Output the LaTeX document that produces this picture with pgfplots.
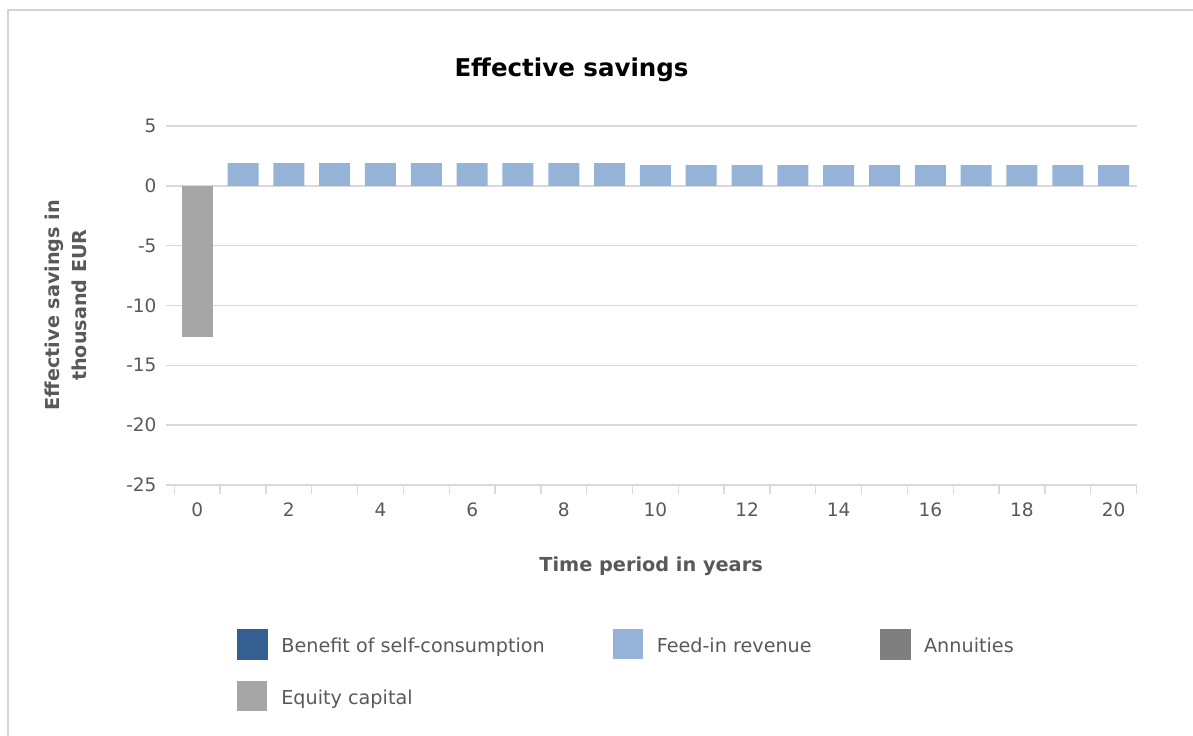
\documentclass[border=0pt]{standalone}
\usepackage{pgfplots}
\pgfplotsset{compat=1.18}
\usepackage{fontspec}
\setmainfont{DejaVu Sans}

\definecolor{selfblue}{HTML}{365F91}
\definecolor{feedblue}{HTML}{95B3D7}
\definecolor{annuity}{HTML}{7F7F7F}
\definecolor{equity}{HTML}{A6A6A6}
\definecolor{txtgray}{HTML}{595959}
\definecolor{gridgray}{HTML}{D9D9D9}
\definecolor{framegray}{HTML}{D4D4D4}

% Feed-in revenue per year, thousand EUR
\pgfplotstableread{
year value
1  1.89
2  1.89
3  1.89
4  1.89
5  1.89
6  1.89
7  1.89
8  1.89
9  1.89
10 1.72
11 1.72
12 1.72
13 1.72
14 1.72
15 1.72
16 1.72
17 1.72
18 1.72
19 1.72
20 1.72
}\feedin

% Equity capital invested at the start
\pgfplotstableread{
year value
0 -12.65
}\equitycap

\begin{document}
\begin{tikzpicture}
\useasboundingbox (0bp,0bp) rectangle (1193bp,736bp);
\draw[framegray, line width=2bp] (7.5bp,-2bp) -- (7.5bp,725.5bp) -- (1195bp,725.5bp);
\begin{axis}[
  at={(165.7bp,251bp)}, anchor=south west,
  scale only axis, width=970.8bp, height=359bp,
  xmin=-0.688, xmax=20.5, ymin=-25, ymax=5,
  axis line style={draw=none},
  xtick={0,2,...,20},
  minor xtick={-0.5,0.5,...,20.5},
  ytick={-25,-20,...,5},
  tick pos=left,
  tick align=outside,
  major tick length=0pt,
  minor tick length=9bp,
  minor tick style={gridgray, line width=1.3bp},
  ymajorgrids,
  major grid style={gridgray, line width=1.5bp},
  /pgf/number format/assume math mode=true,
  tick label style={font=\fontsize{18.5bp}{22bp}\selectfont, text=txtgray, inner sep=0pt},
  xticklabel style={anchor=north, yshift=-18bp},
  yticklabel style={anchor=east, xshift=-9bp},
  every axis title shift=0pt,
  title={Effective savings},
  title style={at={(0.418,1.1365)}, anchor=base, inner sep=0pt,
    font=\fontsize{24.5bp}{29bp}\selectfont\bfseries, text=black},
  xlabel={Time period in years},
  xlabel style={at={(0.5,-0.2423)}, anchor=base, inner sep=0pt,
    font=\fontsize{19.3bp}{23bp}\selectfont\bfseries, text=txtgray},
  ylabel={Effective savings in\\thousand EUR},
  ylabel style={at={(-0.1027,0.501)}, anchor=center, rotate=0, inner sep=0pt, align=center,
    font=\fontsize{19.2bp}{27bp}\selectfont\bfseries, text=txtgray},
  legend columns=3,
  legend cell align=left,
  legend style={at={(0.0734,-0.4011)}, anchor=north west, draw=none, fill=none,
    inner sep=0pt, outer sep=0pt,
    font=\fontsize{19.2bp}{23bp}\selectfont, text=txtgray,
    nodes={inner sep=0pt},
    row sep=22bp,
    /tikz/every odd column/.append style={column sep=14bp},
    /tikz/every even column/.append style={column sep=68bp}},
]
\addlegendimage{legend image code/.code={\fill[selfblue] (0bp,-13bp) rectangle (30bp,17bp);}}
\addplot[ybar, bar width=31bp, bar shift=0pt, fill=feedblue, draw=none,
  legend image code/.code={\fill[feedblue] (0bp,-13bp) rectangle (30bp,17bp);}]
  table[x=year, y=value] {\feedin};
\addlegendimage{legend image code/.code={\fill[annuity] (0bp,-13bp) rectangle (30bp,17bp);}}
\addplot[ybar, bar width=31bp, bar shift=0pt, fill=equity, draw=none,
  legend image code/.code={\fill[equity] (0bp,-13bp) rectangle (30bp,17bp);}]
  table[x=year, y=value] {\equitycap};
\legend{Benefit of self-consumption, Feed-in revenue, Annuities, Equity capital}
\end{axis}
\end{tikzpicture}
\end{document}
